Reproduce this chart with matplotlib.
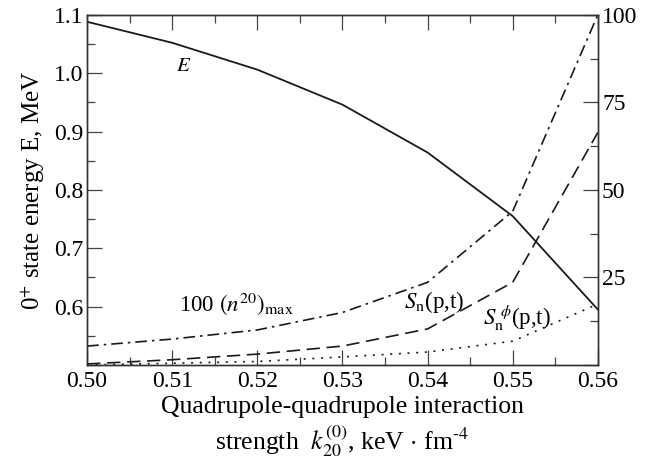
import matplotlib
matplotlib.use("Agg")
import matplotlib.pyplot as plt
from matplotlib.ticker import MultipleLocator, FuncFormatter

plt.rcParams['font.family'] = ['Liberation Serif', 'DejaVu Serif']
plt.rcParams['mathtext.fontset'] = 'stix'

# coupling strength k20
k = [0.50, 0.51, 0.52, 0.53, 0.54, 0.55, 0.56]
# 0+ state energy, MeV (left axis)
energy = [1.088, 1.052, 1.006, 0.946, 0.864, 0.755, 0.595]
# right axis quantities
n20_max = [5.4, 7.4, 10.0, 15.0, 23.6, 43.9, 100.0]
sn_pt = [0.3, 1.5, 3.1, 5.4, 10.3, 23.6, 66.4]
sn_phi_pt = [0.0, 0.5, 1.0, 2.3, 3.7, 6.8, 17.4]

fig = plt.figure(figsize=(6.65, 4.62), dpi=100)
ax = fig.add_axes([0.131, 0.21, 0.768, 0.758])
ax2 = ax.twinx()

lc = '#1a1a1a'
ax.plot(k, energy, color=lc, lw=1.3)
ax2.plot(k, n20_max, color=lc, lw=1.2, dashes=(7, 3, 1.5, 3))
ax2.plot(k, sn_pt, color=lc, lw=1.2, dashes=(8, 4))
ax2.plot(k, sn_phi_pt, color=lc, lw=1.2, dashes=(1.2, 4))

ax.set_xlim(0.50, 0.56)
ax.set_ylim(0.5, 1.1)
ax2.set_ylim(0, 100)

ax.xaxis.set_major_locator(MultipleLocator(0.01))
ax.xaxis.set_minor_locator(MultipleLocator(0.005))
ax.yaxis.set_major_locator(MultipleLocator(0.1))
ax.yaxis.set_minor_locator(MultipleLocator(0.05))
ax2.yaxis.set_major_locator(MultipleLocator(25))
ax2.yaxis.set_minor_locator(MultipleLocator(12.5))

ax.xaxis.set_major_formatter(FuncFormatter(lambda v, p: f"{v:.2f}"))
ax.yaxis.set_major_formatter(FuncFormatter(lambda v, p: "" if v < 0.55 else f"{v:.1f}"))
ax2.yaxis.set_major_formatter(FuncFormatter(lambda v, p: "" if v < 1 else f"{v:.0f}"))

for a in (ax, ax2):
    a.tick_params(which='major', direction='in', length=11, width=0.9, labelsize=17,
                  color='#444444', pad=3)
    a.tick_params(which='minor', direction='in', length=6, width=0.9, color='#444444')
    for s in a.spines.values():
        s.set_color('#333333')
        s.set_linewidth(1.0)
ax.tick_params(axis='x', which='both', top=True)
ax.tick_params(axis='x', pad=4)

ax.set_ylabel(r"0$^{+}$ state energy E, MeV", fontsize=18, labelpad=5)
ax.set_xlabel("Quadrupole-quadrupole interaction\n"
              r"strength  $k_{20}^{(0)}$, keV $\cdot$ fm$^{\text{-4}}$",
              fontsize=18.5, labelpad=3, linespacing=1.25)

ax.text(0.5105, 1.012, r"$E$", fontsize=15, ha='left', va='center')
ax.text(0.5108, 0.605, r"100 $(n^{20})_{\rm max}$", fontsize=16.5, ha='left', va='center')
ax.text(0.5372, 0.608, r"$S_{\rm n}$(p,t)", fontsize=16.5, ha='left', va='center')
ax.text(0.5465, 0.580, r"$S_{\rm n}^{\;\phi}$(p,t)", fontsize=16.5, ha='left', va='center')

fig.savefig("out.png", dpi=100)
